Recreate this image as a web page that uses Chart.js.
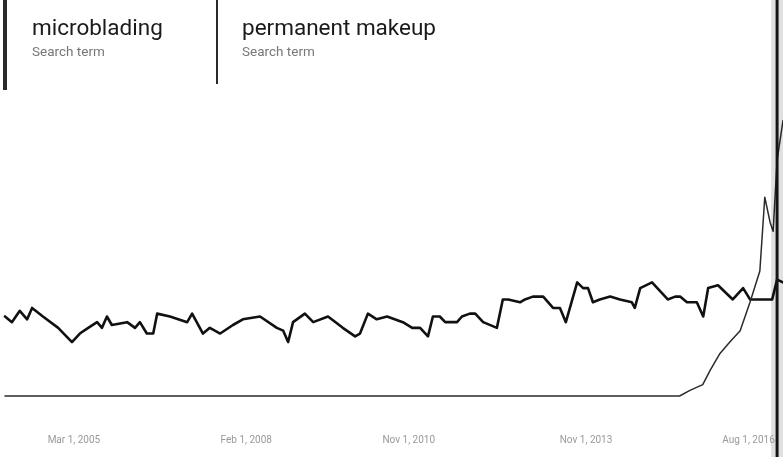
<!DOCTYPE html>
<html>
<head>
<meta charset="utf-8">
<script src="https://cdn.jsdelivr.net/npm/chart.js@4/dist/chart.umd.min.js"></script>
<style>
  body { margin: 0; background: #fff; font-family: Roboto, "Noto Sans", sans-serif; }
  #wrap { position: relative; width: 783px; height: 457px; overflow: hidden; }
  canvas { position: absolute; left: 0; top: 0; }
  .term { position: absolute; top: 0; height: 90px; }
  .term .bar { position: absolute; left: 0; top: 0; bottom: 0; background: #2a2a2a; }
  .term .name { position: absolute; top: 14px; font-size: 22.5px; color: #1a1a1a; white-space: nowrap; }
  .term .sub { position: absolute; top: 43px; font-size: 13.5px; color: #777; white-space: nowrap; }
</style>
</head>
<body>
<div id="wrap">
  <canvas id="trend" width="783" height="457"></canvas>
  <div class="term" style="left:3px;width:200px;">
    <div class="bar" style="width:4px;"></div>
    <div class="name" style="left:29px;">microblading</div>
    <div class="sub" style="left:29px;">Search term</div>
  </div>
  <div class="term" style="left:216px;width:260px;height:84px;">
    <div class="bar" style="width:2px;"></div>
    <div class="name" style="left:26px;">permanent makeup</div>
    <div class="sub" style="left:26px;">Search term</div>
  </div>
</div>
<script>
// months counted from the first month on the axis
const termNames = ['microblading', 'permanent makeup'];

const makeupMonths = [0, 1.4, 3, 4.5, 5.5, 7.7, 10.8, 13.6, 15.2, 16.9, 18.7, 19.7, 20.7, 21.7, 24.8, 26.4, 27.4, 28.8, 30.1, 30.9,
  33.5, 37, 38, 40.2, 41.6, 43.7, 46.3, 48.3, 51.8, 55.2, 56.5, 57.5, 58.5, 60.9, 62.6, 65.6, 68.6, 71.1, 72.1, 73.7,
  75.5, 77.6, 80.8, 82.7, 84.3, 85.9, 86.9, 88.3, 89.4, 91.8, 92.8, 94.4, 95.5, 97.1, 99.9, 101.1, 102.2, 104.6, 105.6, 107.2,
  109.3, 111.3, 112.7, 113.9, 116.2, 117.4, 118.4, 119.4, 120.8, 122.9, 124.9, 127.3, 127.9, 129, 131.4, 134.6, 136.1, 137.1, 138.5, 140.5,
  141.8, 142.8, 144.8, 147.8, 149.9, 151.3, 155.8, 156.8, 158];
const makeupValues = [28, 26, 30, 27, 31, 28, 24, 19, 22, 24, 26, 24, 28, 25, 26, 24, 26, 22, 22, 29,
  28, 26, 29, 22, 24, 22, 25, 27, 28, 24, 23, 19, 26, 29, 26, 28, 24, 21, 22, 29,
  27, 28, 26, 24, 24, 21, 28, 28, 26, 26, 28, 29, 29, 26, 24, 34, 34, 33, 34, 35,
  35, 31, 31, 26, 40, 38, 38, 33, 34, 35, 34, 33, 31, 38, 40, 34, 35, 35, 33, 33,
  28, 38, 39, 34, 38, 34, 34, 41, 40];

const bladingMonths = [0, 40, 80, 120, 137, 139.1, 141.7, 143.2, 145.2, 147.2, 149.3, 151.3, 153.3, 154.3, 155.4, 156, 156.8, 158];
const bladingValues = [0, 0, 0, 0, 0, 2, 4, 9, 15, 19, 23, 33, 44, 70, 61, 58, 83, 97];

const tickMonths = [14, 49, 82, 118, 151];
const tickLabels = ['Mar 1, 2005', 'Feb 1, 2008', 'Nov 1, 2010', 'Nov 1, 2013', 'Aug 1, 2016'];
const hoverMonth = 156.8;

function points(xs, ys) {
  return xs.map((x, i) => ({ x: x, y: ys[i] }));
}

// hover bar and date labels, placed through the x scale
const overlay = {
  id: 'overlay',
  afterDatasetsDraw(chart) {
    const c = chart.ctx;
    const xs = chart.scales.x;
    const px = xs.getPixelForValue(hoverMonth);
    c.save();
    c.fillStyle = 'rgba(0,0,0,0.12)';
    c.fillRect(px - 6, 0, 12, chart.height);
    c.strokeStyle = '#151515';
    c.lineWidth = 3;
    c.beginPath();
    c.moveTo(px, 0);
    c.lineTo(px, chart.height);
    c.stroke();

    c.fillStyle = '#999';
    c.font = '10px Roboto';
    c.textAlign = 'center';
    c.textBaseline = 'middle';
    const y = chart.chartArea.bottom + 44;
    tickMonths.forEach((m, i) => {
      c.fillText(tickLabels[i], xs.getPixelForValue(m), y);
    });
    c.restore();
  }
};

new Chart(document.getElementById('trend'), {
  type: 'line',
  data: {
    datasets: [{
      label: termNames[0],
      data: points(bladingMonths, bladingValues),
      borderColor: '#2b2b2b',
      borderWidth: 1.5,
      pointRadius: 0,
      tension: 0
    }, {
      label: termNames[1],
      data: points(makeupMonths, makeupValues),
      borderColor: '#111',
      borderWidth: 2.6,
      pointRadius: 0,
      tension: 0
    }]
  },
  options: {
    responsive: false,
    animation: false,
    clip: false,
    layout: { padding: { left: 5, right: 0, top: 112, bottom: 61 } },
    plugins: { legend: { display: false }, tooltip: { enabled: false } },
    elements: { line: { borderCapStyle: 'round', borderJoinStyle: 'round' } },
    scales: {
      x: {
        type: 'linear',
        min: 0,
        max: 158,
        grid: { display: false, drawTicks: false },
        border: { display: false },
        ticks: { display: false }
      },
      y: {
        display: false,
        min: 0,
        max: 100
      }
    }
  },
  plugins: [overlay]
});
</script>
</body>
</html>
